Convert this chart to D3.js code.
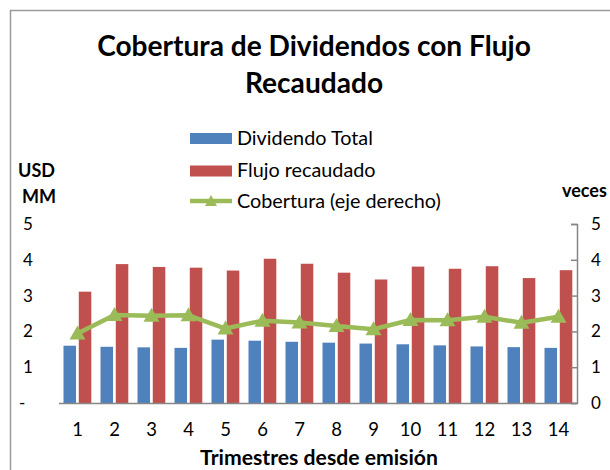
<!DOCTYPE html>
<html><head><meta charset="utf-8">
<script src="https://cdn.jsdelivr.net/npm/d3@7"></script>
<style>html,body{margin:0;padding:0;background:#fff;} svg{display:block;font-family:Lato,"Open Sans",sans-serif;}</style>
</head><body>
<script>
const categories = ["1","2","3","4","5","6","7","8","9","10","11","12","13","14"];
const seriesNames = ["Dividendo Total","Flujo recaudado","Cobertura (eje derecho)"];
const dividendoTotal = [1.60,1.57,1.555,1.54,1.77,1.74,1.71,1.685,1.66,1.64,1.61,1.58,1.56,1.54];
const flujoRecaudado = [3.11,3.88,3.80,3.78,3.70,4.03,3.89,3.64,3.45,3.81,3.75,3.82,3.49,3.71];
const cobertura = [1.94,2.46,2.44,2.45,2.08,2.30,2.25,2.15,2.06,2.32,2.31,2.41,2.24,2.41];
const leftTicks = [0,1,2,3,4,5];
const leftTickLabels = ["-","1","2","3","4","5"];
const rightTicks = [0,1,2,3,4,5];
const colors = {div:"#4F81BD", flujo:"#C0504D", cob:"#9BBB59"};

const W = 610, H = 470;
const svg = d3.select("body").append("svg").attr("width", W).attr("height", H);
svg.append("rect").attr("x",10.5).attr("y",10.5).attr("width",640).attr("height",500)
  .attr("fill","#fff").attr("stroke","#9a9a9a").attr("stroke-width",1.5);

function fit(sel, w){
  const n = sel.node(); const fs = parseFloat(sel.attr("font-size"));
  const l = n.getComputedTextLength(); sel.attr("font-size", fs * w / l);
}

const plot = {left:59, right:577, top:224, bottom:403};
const x0 = d3.scaleBand().domain(categories).range([plot.left, plot.right]).padding(0);
const x1 = d3.scaleBand().domain(["div","flujo"]).range([4.5, 32.3]).paddingInner(0.18);
const yL = d3.scaleLinear().domain([0,5]).range([plot.bottom, plot.top]);
const yR = d3.scaleLinear().domain([0,5]).range([plot.bottom, plot.top]);

// Title
const t1 = svg.append("text").attr("x",314).attr("y",56).attr("text-anchor","middle")
  .attr("font-weight","bold").attr("font-size",28).attr("fill","#000").text("Cobertura de Dividendos con Flujo");
fit(t1, 434);
svg.append("text").attr("x",314).attr("y",93).attr("text-anchor","middle")
  .attr("font-weight","bold").attr("font-size",t1.attr("font-size")).attr("fill","#000").text("Recaudado");

// Bars
const g = svg.append("g");
categories.forEach((c,i)=>{
  g.append("rect").attr("x", x0(c)+x1("div")).attr("y", yL(dividendoTotal[i]))
    .attr("width", x1.bandwidth()).attr("height", yL(0)-yL(dividendoTotal[i])).attr("fill",colors.div);
  g.append("rect").attr("x", x0(c)+x1("flujo")).attr("y", yL(flujoRecaudado[i]))
    .attr("width", x1.bandwidth()).attr("height", yL(0)-yL(flujoRecaudado[i])).attr("fill",colors.flujo);
});

// Baseline
svg.append("line").attr("x1",plot.left).attr("x2",plot.right).attr("y1",yL(0)+0.5).attr("y2",yL(0)+0.5)
  .attr("stroke","#868686").attr("stroke-width",1.5);

// Right axis
const rAxis = d3.axisRight(yR).tickValues(rightTicks).tickSize(-6).tickPadding(14).tickFormat(d3.format("d"));
const ra = svg.append("g").attr("transform",`translate(${plot.right},0)`).call(rAxis);
ra.select(".domain").attr("stroke","#868686").attr("stroke-width",1.5);
ra.selectAll(".tick line").attr("stroke","#868686").attr("stroke-width",1.5);
ra.selectAll(".tick text").attr("font-size",17).attr("fill","#000").attr("font-family","Lato, sans-serif");

// Left tick labels
leftTicks.forEach((v,i)=>{
  svg.append("text").attr("x", v===0 ? 19 : 23).attr("y", yL(v)).attr("dy","0.35em")
    .attr("font-size",17).attr("fill","#000").text(leftTickLabels[i]);
});

// X axis labels
const xAxis = d3.axisBottom(x0).tickSize(0).tickPadding(20);
const xa = svg.append("g").attr("transform",`translate(0,${plot.bottom})`).call(xAxis);
xa.select(".domain").remove();
xa.selectAll(".tick text").attr("font-size",18.5).attr("fill","#000").attr("font-family","Lato, sans-serif");

// Line + markers
const line = d3.line().x((d,i)=>x0(categories[i])+x0.bandwidth()/2).y(d=>yR(d));
svg.append("path").datum(cobertura).attr("d",line).attr("fill","none")
  .attr("stroke",colors.cob).attr("stroke-width",4.5).attr("stroke-linejoin","round");
const tri = "M0,-8L8,6L-8,6Z";
cobertura.forEach((v,i)=>{
  svg.append("path").attr("d",tri).attr("fill",colors.cob)
    .attr("transform",`translate(${x0(categories[i])+x0.bandwidth()/2},${yR(v)})`);
});

// Legend
const lg = svg.append("g");
const rows = [
  {name:seriesNames[0], type:"rect", color:colors.div, y:138.5},
  {name:seriesNames[1], type:"rect", color:colors.flujo, y:171},
  {name:seriesNames[2], type:"line", color:colors.cob, y:201}
];
let legendFs = null;
rows.forEach((r,i)=>{
  if (r.type==="rect") {
    lg.append("rect").attr("x",190).attr("y",r.y-5.5).attr("width",42).attr("height",11).attr("fill",r.color);
  } else {
    lg.append("line").attr("x1",190).attr("x2",232).attr("y1",r.y).attr("y2",r.y).attr("stroke",r.color).attr("stroke-width",4.5);
    lg.append("path").attr("d","M0,-6L6,5L-6,5Z").attr("fill",r.color).attr("transform",`translate(211,${r.y})`);
  }
  const t = lg.append("text").attr("x",237).attr("y",[145,177,208][i]).attr("font-size",18).attr("fill","#000").text(r.name);
  if (i===0) { fit(t,136); legendFs = t.attr("font-size"); } else t.attr("font-size",legendFs);
});

// Axis titles
const usd = svg.append("text").attr("x",18).attr("y",177).attr("font-weight","bold").attr("font-size",17).attr("fill","#000").text("USD");
fit(usd,37);
svg.append("text").attr("x",22).attr("y",203).attr("font-weight","bold").attr("font-size",usd.attr("font-size")).attr("fill","#000").text("MM");
svg.append("text").attr("x",562).attr("y",197).attr("font-weight","bold").attr("font-size",usd.attr("font-size")).attr("fill","#000").text("veces");
const xt = svg.append("text").attr("x",319).attr("y",465).attr("text-anchor","middle").attr("font-weight","bold").attr("font-size",17).attr("fill","#000").text("Trimestres desde emisión");
fit(xt,238);
</script>
</body></html>
